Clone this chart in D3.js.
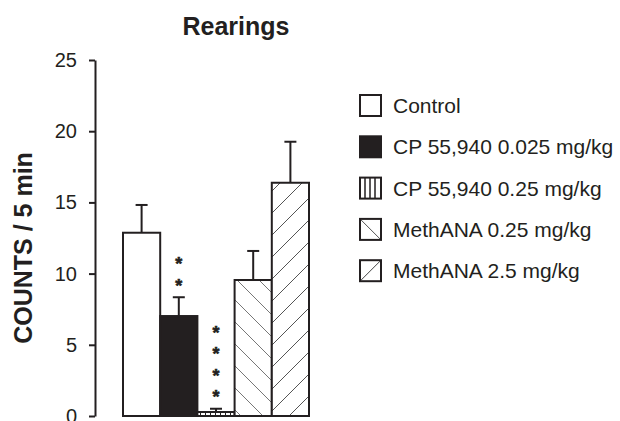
<!DOCTYPE html>
<html>
<head>
<meta charset="utf-8">
<script src="https://cdn.jsdelivr.net/npm/d3@7"></script>
<style>
  html, body { margin: 0; padding: 0; background: #fff; }
  svg { display: block; font-family: "Liberation Sans", Arial, sans-serif; }
</style>
</head>
<body>
<svg id="chart" width="620" height="421"></svg>
<script>
// ---- data ----
const groups = ["Control", "CP 55,940 0.025 mg/kg", "CP 55,940 0.25 mg/kg", "MethANA 0.25 mg/kg", "MethANA 2.5 mg/kg"];
const means  = [12.87, 7.02, 0.28, 9.55, 16.38];
const sems   = [1.95, 1.32, 0.23, 2.04, 2.88];
const stars  = [0, 2, 4, 0, 0];
const fills  = ["none", "solid", "vstripe", "backslash", "slash"];
const yTicks = [0, 5, 10, 15, 20, 25];
const title  = "Rearings";
const yLabel = "COUNTS / 5 min";

const ink = "#231f20";
const svg = d3.select("#chart");

// patterns
const defs = svg.append("defs");
const pv = defs.append("pattern").attr("id", "vstripe").attr("patternUnits", "userSpaceOnUse")
  .attr("width", 5).attr("height", 10);
pv.append("rect").attr("width", 5).attr("height", 10).attr("fill", "#fff");
pv.append("line").attr("x1", 0.5).attr("x2", 0.5).attr("y1", 0).attr("y2", 10).attr("stroke", ink).attr("stroke-width", 1);

const P = 22;
const pb = defs.append("pattern").attr("id", "backslash").attr("patternUnits", "userSpaceOnUse")
  .attr("width", P).attr("height", P).attr("x", 1).attr("y", 0);
pb.append("rect").attr("width", P).attr("height", P).attr("fill", "#fff");
pb.append("path").attr("d", `M0,0L${P},${P}M${-P/2},${P/2}L${P/2},${P*1.5}M${P/2},${-P/2}L${P*1.5},${P/2}`)
  .attr("stroke", "#777").attr("stroke-width", 1).attr("fill", "none");

const ps = defs.append("pattern").attr("id", "slash").attr("patternUnits", "userSpaceOnUse")
  .attr("width", P).attr("height", P).attr("x", 1).attr("y", 0);
ps.append("rect").attr("width", P).attr("height", P).attr("fill", "#fff");
ps.append("path").attr("d", `M0,${P}L${P},0M${-P/2},${P/2}L${P/2},${-P/2}M${P/2},${P*1.5}L${P*1.5},${P/2}`)
  .attr("stroke", "#555").attr("stroke-width", 1).attr("fill", "none");

function fillOf(f) {
  if (f === "none") return "#fff";
  if (f === "solid") return ink;
  return `url(#${f})`;
}

// scales
const x = d3.scaleBand().domain(groups).range([123, 309]).padding(0);
const y = d3.scaleLinear().domain([0, 25]).range([416, 60]);

// title
svg.append("text").attr("x", 236).attr("y", 35).attr("text-anchor", "middle")
  .attr("font-size", 25).attr("font-weight", "bold").attr("fill", ink).text(title);

// y axis
const yAxis = d3.axisLeft(y).tickValues(yTicks).tickSize(6).tickPadding(12).tickSizeOuter(0);
const gy = svg.append("g").attr("transform", "translate(95,0)").call(yAxis);
gy.select(".domain").attr("stroke", ink).attr("stroke-width", 2);
gy.selectAll(".tick line").attr("stroke", ink).attr("stroke-width", 2);
gy.selectAll(".tick text").attr("font-size", 20).attr("fill", ink)
  .attr("font-family", "Liberation Sans, Arial, sans-serif");

svg.append("text").attr("transform", "translate(32,248) rotate(-90)").attr("text-anchor", "middle")
  .attr("font-size", 25).attr("font-weight", "bold").attr("fill", ink).text(yLabel);

// bars
const data = groups.map((g, i) => ({ g, m: means[i], s: sems[i], st: stars[i], f: fills[i] }));
const bars = svg.append("g");
bars.selectAll("rect").data(data).enter().append("rect")
  .attr("x", d => x(d.g)).attr("width", x.bandwidth())
  .attr("y", d => y(d.m)).attr("height", d => y(0) - y(d.m))
  .attr("fill", d => fillOf(d.f)).attr("stroke", ink).attr("stroke-width", 2);

// error bars
const eb = svg.append("g").attr("stroke", ink).attr("stroke-width", 2);
data.forEach(d => {
  const cx = x(d.g) + x.bandwidth() / 2;
  eb.append("line").attr("x1", cx).attr("x2", cx).attr("y1", y(d.m)).attr("y2", y(d.m + d.s));
  eb.append("line").attr("x1", cx - 6).attr("x2", cx + 6).attr("y1", y(d.m + d.s)).attr("y2", y(d.m + d.s));
});

// significance stars
data.forEach(d => {
  const cx = x(d.g) + x.bandwidth() / 2;
  for (let k = 0; k < d.st; k++) {
    const cy = y(d.m + d.s) - 16 - k * 21.5;
    svg.append("text").attr("x", cx).attr("y", cy + 10.5).attr("text-anchor", "middle")
      .attr("font-size", 18).attr("font-weight", "bold").attr("fill", ink)
      .attr("stroke", ink).attr("stroke-width", 0.6).text("*");
  }
});

// legend
const leg = svg.append("g");
const rowY = d => 95 + d * 41.3;
groups.forEach((g, i) => {
  const yy = rowY(i);
  const gg = leg.append("g").attr("transform", `translate(360,${yy})`);
  const bw = 21, bh = 21;
  if (fills[i] === "vstripe") {
    gg.append("rect").attr("width", bw).attr("height", bh).attr("fill", "#fff");
    [5, 10, 15].forEach(px => gg.append("line").attr("x1", px).attr("x2", px).attr("y1", 0).attr("y2", bh)
      .attr("stroke", ink).attr("stroke-width", 1.5));
  } else if (fills[i] === "backslash") {
    gg.append("rect").attr("width", bw).attr("height", bh).attr("fill", "#fff");
    gg.append("line").attr("x1", 0).attr("y1", 0).attr("x2", bw).attr("y2", bh).attr("stroke", "#555").attr("stroke-width", 1);
  } else if (fills[i] === "slash") {
    gg.append("rect").attr("width", bw).attr("height", bh).attr("fill", "#fff");
    gg.append("line").attr("x1", 0).attr("y1", bh).attr("x2", bw).attr("y2", 0).attr("stroke", "#444").attr("stroke-width", 1);
  } else {
    gg.append("rect").attr("width", bw).attr("height", bh).attr("fill", fillOf(fills[i]));
  }
  gg.append("rect").attr("width", bw).attr("height", bh).attr("fill", "none").attr("stroke", ink).attr("stroke-width", 2);
  leg.append("text").attr("x", 393).attr("y", yy + 18).attr("font-size", 21).attr("fill", ink).text(g);
});
</script>
</body>
</html>
